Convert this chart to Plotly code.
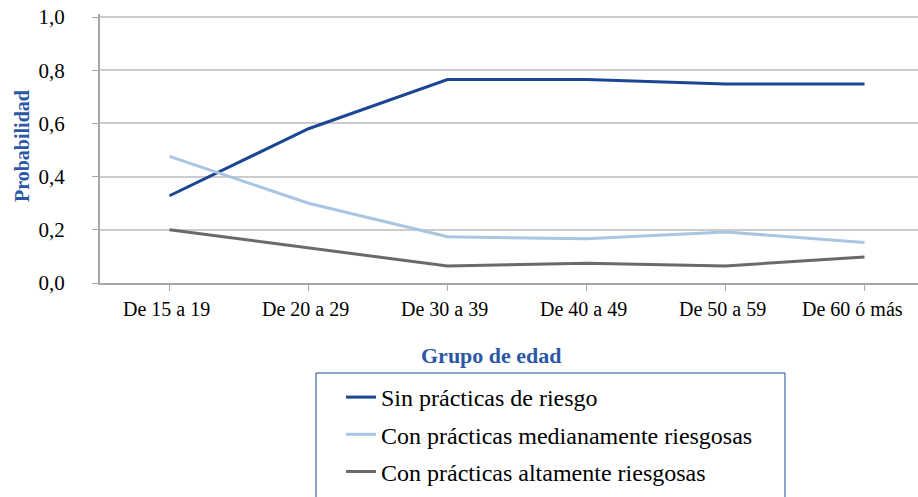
import plotly.graph_objects as go

categorias = ["De 15 a 19", "De 20 a 29", "De 30 a 39", "De 40 a 49", "De 50 a 59", "De 60 ó más"]
sin_riesgo = [0.328, 0.580, 0.765, 0.765, 0.748, 0.748]
medianamente = [0.476, 0.300, 0.174, 0.166, 0.192, 0.152]
altamente = [0.200, 0.133, 0.064, 0.074, 0.064, 0.098]
nombres = ["Sin prácticas de riesgo", "Con prácticas medianamente riesgosas", "Con prácticas altamente riesgosas"]
colores = ["#1B4694", "#A9C5E1", "#6A6A6E"]
y_ticks = [0.0, 0.2, 0.4, 0.6, 0.8, 1.0]

W, H = 918, 497
# screen-pixel layout of the plot area
PX_PER_UNIT = 266.0
SX0, SX1, SY0, SY1 = 100, 918, 14, 283
L, R, T, B = SX0, W - SX1, SY0, H - SY1
pw, ph = SX1 - SX0, SY1 - SY0

def px_x(p):
    return (p - SX0) / pw

def px_y(p):
    return (SY1 - p) / ph

FONT = "Liberation Serif"
BLUE_T = "#2A58A6"
fig = go.Figure()
for i, (nm, vals, c) in enumerate(zip(nombres, [sin_riesgo, medianamente, altamente], colores)):
    fig.add_trace(go.Scatter(x=list(range(len(categorias))), y=vals, mode="lines", name=nm,
                             line=dict(color=c, width=3), legendgroup=f"g{i}"))

fig.update_layout(
    width=W, height=H, margin=dict(l=L, r=R, t=T, b=B, autoexpand=False),
    paper_bgcolor="white", plot_bgcolor="white", separators=", ",
    font=dict(family=FONT, color="black", size=19),
    showlegend=True,
    legend=dict(x=px_x(341), y=px_y(375), xanchor="left", yanchor="top",
                font=dict(family=FONT, size=24, color="black"),
                traceorder="grouped", tracegroupgap=3, bgcolor="rgba(0,0,0,0)",
                itemwidth=30),
    xaxis=dict(range=[-0.5, -0.5 + pw / 139.0], tickmode="array",
               tickvals=list(range(len(categorias))), ticktext=[""] * len(categorias),
               tickson="boundaries", ticks="outside", ticklen=6, tickcolor="#A6A6A6",
               showline=True, linecolor="#A6A6A6", linewidth=2, showgrid=False,
               zeroline=False, showticklabels=False, fixedrange=True),
    yaxis=dict(range=[0, ph / PX_PER_UNIT], tickmode="array", tickvals=y_ticks, tickformat=".1f",
               ticks="outside", ticklen=6, tickcolor="#A6A6A6", ticklabelstandoff=23,
               showline=True, linecolor="#A6A6A6", linewidth=2,
               showgrid=True, gridcolor="#CCCCCC", gridwidth=2, zeroline=False,
               tickfont=dict(size=21)),
)
for i, cat in enumerate(categorias):
    last = i == len(categorias) - 1
    fig.add_annotation(text=cat, xref="x", yref="paper", x=i, y=px_y(309),
                       xanchor="center", yanchor="middle", showarrow=False,
                       xshift=-12 if last else -3,
                       font=dict(family=FONT, size=20, color="black"))
fig.add_annotation(text="<b>Probabilidad</b>", xref="paper", yref="paper",
                   x=px_x(22), y=px_y(146), textangle=-90, showarrow=False,
                   xanchor="center", yanchor="middle",
                   font=dict(family=FONT, size=20, color=BLUE_T))
fig.add_annotation(text="<b>Grupo de edad</b>", xref="paper", yref="paper",
                   x=px_x(491), y=px_y(355), showarrow=False,
                   xanchor="center", yanchor="middle",
                   font=dict(family=FONT, size=22, color=BLUE_T))
fig.add_shape(type="rect", xref="paper", yref="paper",
              x0=px_x(316), x1=px_x(785), y0=px_y(510), y1=px_y(373),
              line=dict(color="#1B4694", width=1), fillcolor="rgba(0,0,0,0)")
fig.write_html("out.html", config={"displayModeBar": False},
               post_script="document.body.style.margin='0px';document.body.style.overflow='hidden';")
